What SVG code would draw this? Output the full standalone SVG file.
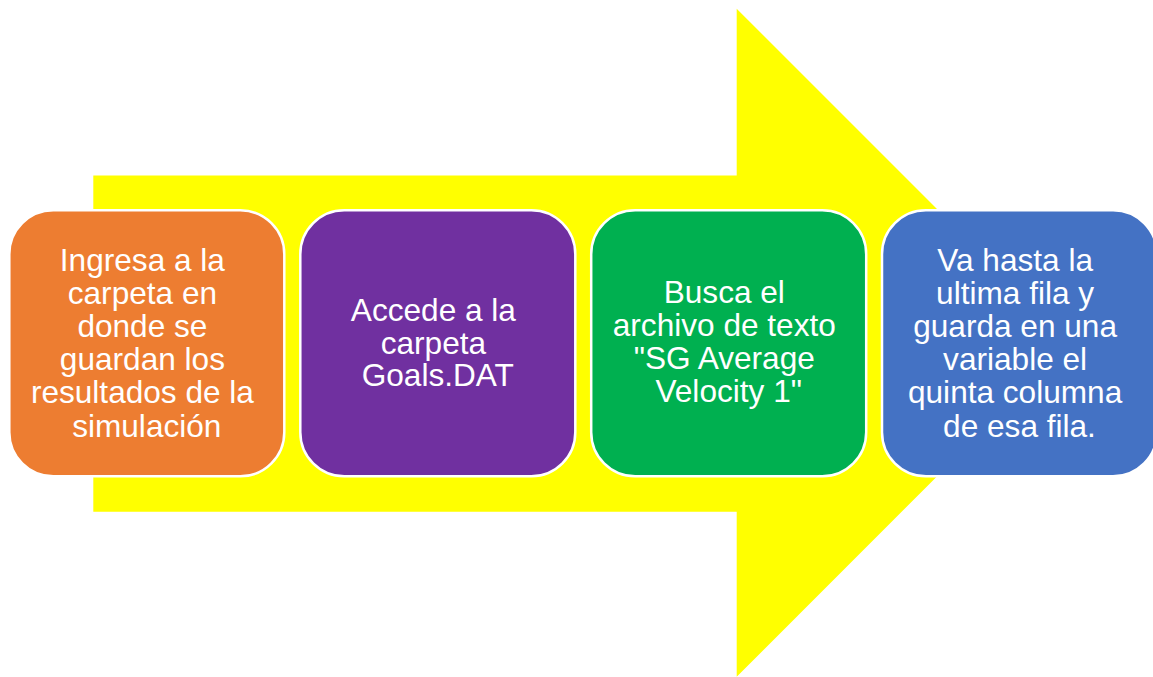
<svg xmlns="http://www.w3.org/2000/svg" width="1153" height="677" viewBox="0 0 1153 677">
  <style>
    .box { stroke: #FFFFFF; stroke-width: 2.5; }
    .lbl { font-family: "Liberation Sans", Arial, sans-serif; font-size: 31.6px; fill: #FFFFFF; text-anchor: middle; }
  </style>
  <rect width="1153" height="677" fill="#FFFFFF"/>
  <g id="arrow">
    <polygon points="93.3,175.5 736.7,175.5 736.7,8.7 1070.7,342.7 736.7,676.7 736.7,511.7 93.3,511.7" fill="#FFFF00"/>
  </g>
  <g id="connectors"></g>
  <g id="step1">
    <rect class="box" x="9.3" y="210.3" width="275" height="266" rx="44" ry="44" fill="#ED7D31"/>
    <text class="lbl">
      <tspan x="146.8" y="271">Ingresa a la</tspan>
      <tspan x="146.8" y="304.1">carpeta en</tspan>
      <tspan x="146.8" y="337.2">donde se</tspan>
      <tspan x="146.8" y="370.3">guardan los</tspan>
      <tspan x="146.8" y="403.4">resultados de la</tspan>
      <tspan x="146.8" y="436.5">simulación</tspan>
    </text>
  </g>
  <g id="step2">
    <rect class="box" x="300.3" y="210.3" width="275" height="266" rx="44" ry="44" fill="#7030A0"/>
    <text class="lbl">
      <tspan x="437.8" y="320.7">Accede a la</tspan>
      <tspan x="437.8" y="353.6">carpeta</tspan>
      <tspan x="437.8" y="386.4">Goals.DAT</tspan>
    </text>
  </g>
  <g id="step3">
    <rect class="box" x="591.2" y="210.3" width="275" height="266" rx="44" ry="44" fill="#00B050"/>
    <text class="lbl">
      <tspan x="728.7" y="303.3">Busca el</tspan>
      <tspan x="728.7" y="336.1">archivo de texto</tspan>
      <tspan x="728.7" y="368.9">"SG Average</tspan>
      <tspan x="728.7" y="401.7">Velocity 1"</tspan>
    </text>
  </g>
  <g id="step4">
    <rect class="box" x="882" y="210.3" width="275" height="266" rx="44" ry="44" fill="#4472C4"/>
    <text class="lbl">
      <tspan x="1019.5" y="271">Va hasta la</tspan>
      <tspan x="1019.5" y="304.1">ultima fila y</tspan>
      <tspan x="1019.5" y="337.2">guarda en una</tspan>
      <tspan x="1019.5" y="370.3">variable el</tspan>
      <tspan x="1019.5" y="403.4">quinta columna</tspan>
      <tspan x="1019.5" y="436.5">de esa fila.</tspan>
    </text>
  </g>
</svg>
